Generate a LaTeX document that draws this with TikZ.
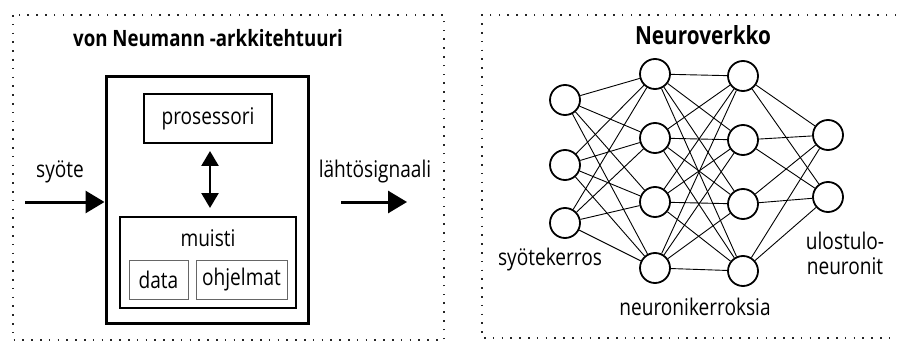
\documentclass[tikz,border=0pt]{standalone}
\usepackage{fontspec}
\setmainfont[FakeStretch=0.83]{Open Sans}
\usetikzlibrary{arrows.meta}
\begin{document}
\begin{tikzpicture}[x=1pt,y=-1pt,
  frame/.style={draw=black!85,line width=1.8pt,dash pattern=on 1.6pt off 7.2pt},
  title/.style={font=\fontsize{22.5}{26}\selectfont\bfseries},
  lbl/.style={font=\fontsize{23}{25}\selectfont},
  box/.style={draw,line width=1.6pt},
  thinbox/.style={draw=black!60,line width=1pt},
  neuron/.style={circle,draw,line width=1.8pt,minimum size=30pt,inner sep=0pt},
  edge/.style={line width=0.9pt},
  bigarrow/.style={line width=3pt,-{Triangle[length=19pt,width=22pt]}},
  dblarrow/.style={line width=2.5pt,{Triangle[length=15pt,width=17pt]}-{Triangle[length=15pt,width=17pt]}}]
\useasboundingbox (0,0) rectangle (897,342);
% frames
\draw[frame] (13,15) rectangle (444,340);
\draw[frame] (905,15) -- (482,15) -- (482,338) -- (905,338);
% left panel
\node[title] (t1) at (208,38) {von Neumann -arkkitehtuuri};
\node[draw,line width=3pt,minimum width=202pt,minimum height=246pt] (outer) at (207,200) {};
\node[box,minimum width=128pt,minimum height=49pt,lbl] (proc) at (208,118.5) {prosessori};
\node[box,minimum width=176pt,minimum height=91pt] (mem) at (208,262.5) {};
\node[lbl] (mtxt) at (208,238) {muisti};
\node[thinbox,minimum width=59pt,minimum height=39pt,lbl] (data) at (158.5,279.5) {data};
\node[thinbox,minimum width=91pt,minimum height=39pt,lbl] (prog) at (241.5,279.5) {ohjelmat};
\coordinate (a1) at (210,151);
\coordinate (a2) at (210,208);
\draw[dblarrow] (a1) -- (a2);
\node[lbl] (in) at (60,172) {syöte};
\node[lbl] (out) at (375,172) {lähtösignaali};
\coordinate (i1) at (25,202);
\coordinate (o1) at (341,202);
\coordinate (o2) at (407,202);
\draw[bigarrow] (i1) -- (outer.west |- i1);
\draw[bigarrow] (o1) -- (o2);
% right panel
\node[title,font=\fontsize{25}{28}\selectfont\bfseries] (t2) at (703,35) {Neuroverkko};
\foreach \i/\y in {1/100,2/165,3/223} \node[neuron] (a\i) at (565,\y) {};
\foreach \i/\y in {1/74,2/138,3/202,4/268} \node[neuron] (b\i) at (655,\y) {};
\foreach \i/\y in {1/76,2/140,3/204,4/271} \node[neuron] (c\i) at (743,\y) {};
\foreach \i/\y in {1/135,2/197} \node[neuron] (d\i) at (828,\y) {};
\foreach \i in {1,2,3} \foreach \j in {1,2,3,4} \draw[edge] (a\i) -- (b\j);
\foreach \i in {1,2,3,4} \foreach \j in {1,2,3,4} \draw[edge] (b\i) -- (c\j);
\foreach \i in {1,2,3,4} \foreach \j in {1,2} \draw[edge] (c\i) -- (d\j);
\node[lbl] (l1) at (550,260) {syötekerros};
\node[lbl] (l2) at (695,307) {neuronikerroksia};
\node[lbl,align=center] (l3) at (845,253) {ulostulo-\\neuronit};
\end{tikzpicture}
\end{document}
